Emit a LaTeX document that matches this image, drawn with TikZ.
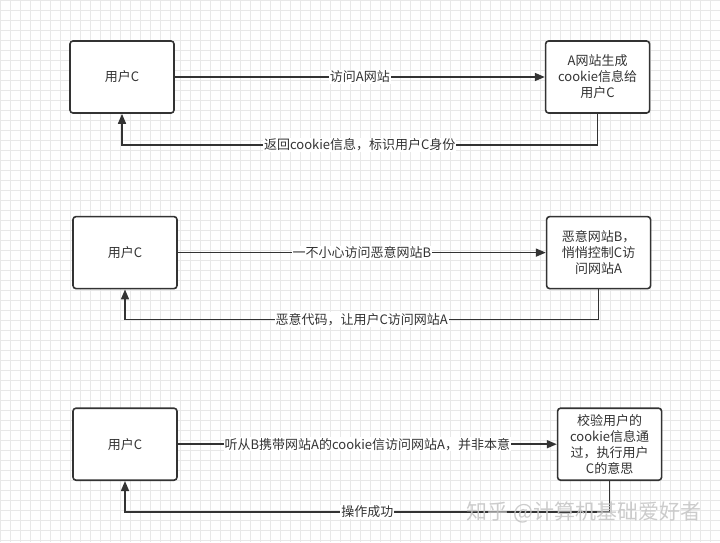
\documentclass[tikz,border=0pt]{standalone}
\usepackage{fontspec}
\setmainfont{Noto Sans CJK SC}
\usetikzlibrary{arrows.meta,positioning}

\definecolor{ink}{HTML}{333333}
\definecolor{gridgray}{HTML}{E8E8E8}

\begin{document}
\begin{tikzpicture}[
  x=1pt, y=-1pt,
  font=\fontsize{13}{16}\selectfont,
  box/.style={draw=ink, text=ink, line width=1.6pt, rounded corners=3pt, align=center,
              minimum width=104pt, minimum height=72pt, inner sep=2pt, fill=white},
  lbl/.style={fill=white, text=ink, inner sep=1pt},
  link/.style={draw=ink, line width=1.6pt},
  >={Triangle[length=10pt,width=8pt]}
]
% background grid
\useasboundingbox (0,0) rectangle (720,542);
\draw[gridgray, line width=0.6pt, step=10pt] (0,0) grid (720,542);

% first exchange
\node[box] (user1) at (122,77) {用户C};
\node[box, right=370pt of user1] (site1) {A网站生成\\cookie信息给\\用户C};
\draw[link,->] (user1) -- node[lbl]{访问A网站} (site1);
\draw[link,->] (site1.south) -- ++(0,31) -| node[lbl, pos=0.25]{返回cookie信息，标识用户C身份} (user1.south);

% second exchange
\node[box, below=102pt of user1, xshift=3pt] (user2) {用户C};
\node[box, right=368pt of user2] (site2) {恶意网站B，\\悄悄控制C访\\问网站A};
\draw[link,->] (user2) -- node[lbl]{一不小心访问恶意网站B} (site2);
\draw[link,->] (site2.south) -- ++(0,30) -| node[lbl, pos=0.25]{恶意代码，让用户C访问网站A} (user2.south);

% third exchange
\node[box, below=118pt of user2] (user3) {用户C};
\node[box, right=379pt of user3] (site3) {校验用户的\\cookie信息通\\过，执行用户\\C的意思};
\draw[link,->] (user3) -- node[lbl]{听从B携带网站A的cookie信访问网站A，并非本意} (site3);
\draw[link,->] (site3.south) -- ++(0,31) -| node[lbl, pos=0.25]{操作成功} (user3.south);

% watermark
\node[text=gray!45, font=\fontsize{21}{22}\selectfont, opacity=0.9] (mark) at (584,512) {知乎 @计算机基础爱好者};
\end{tikzpicture}
\end{document}
